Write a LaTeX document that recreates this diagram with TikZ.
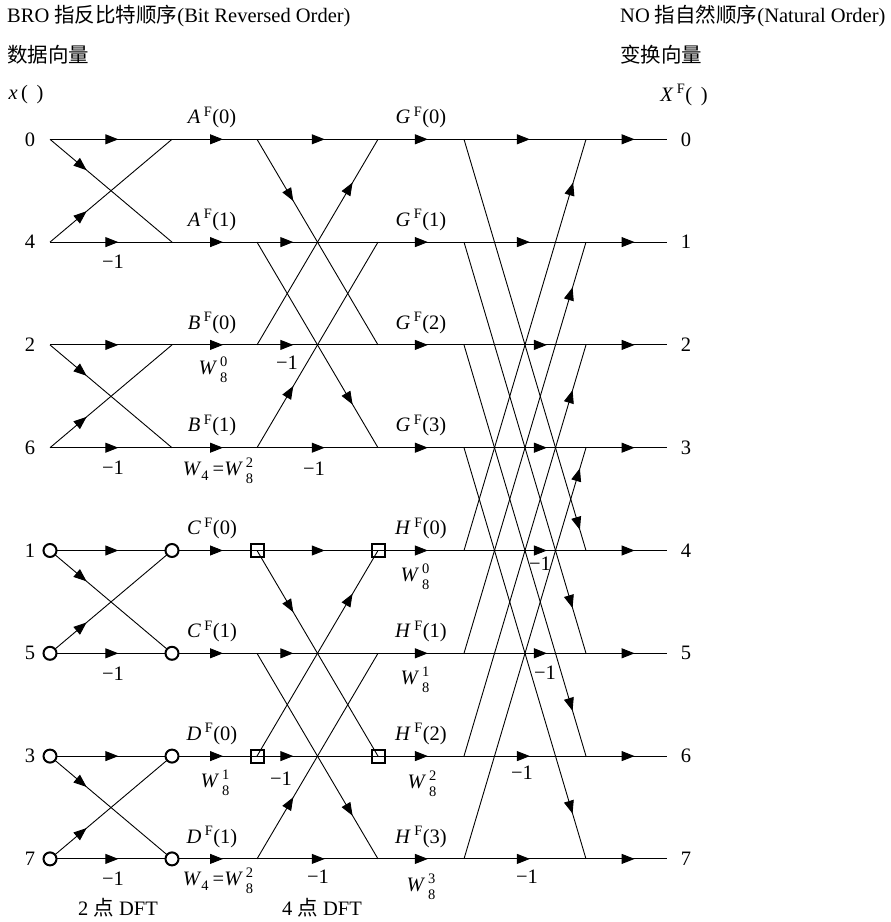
\documentclass[tikz,border=0pt]{standalone}
\usepackage{amsmath}
\usepackage{fontspec}
\setmainfont{Liberation Serif}
\newfontfamily\cjk{Noto Sans CJK SC}
\usetikzlibrary{arrows.meta,decorations.markings}
\newcommand{\Fl}[2]{\textit{#1}\,\textsuperscript{F}(#2)}
\newcommand{\smalldig}[1]{{\fontsize{14.5}{15}\selectfont #1}}
\newcommand{\Wn}[1]{\textit{W}\hspace{3pt}\rlap{\raisebox{8pt}{\smalldig{#1}}}\raisebox{-8pt}{\smalldig{8}}}
\newcommand{\Wfour}{\textit{W}\raisebox{-5pt}{\smalldig{4}}\hspace{4pt}=\Wn{2}}
\tikzset{
  ln/.style={line width=0.9pt},
  arr/.style={postaction={decorate},decoration={markings,
     mark=at position #1 with {\arrow{Triangle[length=13pt,width=10pt]}}}},
  circ/.style={circle,draw,line width=2pt,fill=white,minimum size=13pt,inner sep=0pt},
  sq/.style={rectangle,draw,line width=2pt,minimum size=13pt,inner sep=0pt},
  lbl/.style={inner sep=0pt,font=\fontsize{20.5}{23}\selectfont},
  hdr/.style={inner sep=0pt,anchor=west,font=\fontsize{20.5}{24}\selectfont},
}
\begin{document}
\begin{tikzpicture}[x=1pt,y=-1pt]
\useasboundingbox (0,0) rectangle (891,922);
% grid coordinates
\foreach \i in {0,...,7}{
  \foreach \c/\x in {0/50,1/172,2/257,3/378,4/464,5/586,6/667}{
    \coordinate (p\c-\i) at (\x,{139.3+102.8*\i});
  }
}
% headers
\node[hdr] (h1) at (7,16) {BRO {\cjk 指反比特顺序}(Bit Reversed Order)};
\node[hdr] (h2) at (7,55) {\cjk 数据向量};
\node[hdr] (h3) at (620,16) {NO {\cjk 指自然顺序}(Natural Order)};
\node[hdr] (h4) at (620,55) {\cjk 变换向量};
\node[lbl] (xin) at (26,95) {\textit{x}\,( \,)};
\node[lbl] (xout) at (684,95) {\textit{X}\,\textsuperscript{F}( \,)};
% input/output indices
\foreach \i/\t in {0/0,1/4,2/2,3/6,4/1,5/5,6/3,7/7}{
  \node[lbl] (in\i) at (30,{139.3+102.8*\i}) {\t};
  \node[lbl] (out\i) at (686,{139.3+102.8*\i}) {\i};
}
% stage 1 (2-point DFT)
\foreach \a/\b in {0/1,2/3,4/5,6/7}{
  \draw[ln,arr=0.56] (p0-\a) -- (p1-\a);
  \draw[ln,arr=0.56] (p0-\b) -- (p1-\b);
  \draw[ln,arr=0.30] (p0-\a) -- (p1-\b);
  \draw[ln,arr=0.30] (p0-\b) -- (p1-\a);
}
\foreach \i in {0,...,7}{
  \draw[ln,arr=0.6] (p1-\i) -- (p2-\i);
  \draw[ln,arr=0.58] (p3-\i) -- (p4-\i);
  \draw[ln,arr=0.6] (p5-\i) -- (p6-\i);
}
% stage 2 (4-point DFT)
\foreach \k in {0,4}{
  \pgfmathtruncatemacro{\ka}{\k+1}
  \pgfmathtruncatemacro{\kb}{\k+2}
  \pgfmathtruncatemacro{\kc}{\k+3}
  \draw[ln,arr=0.56] (p2-\k) -- (p3-\k);
  \draw[ln,arr=0.30] (p2-\ka) -- (p3-\ka);
  \draw[ln,arr=0.30] (p2-\kb) -- (p3-\kb);
  \draw[ln,arr=0.56] (p2-\kc) -- (p3-\kc);
  \draw[ln,arr=0.30] (p2-\k) -- (p3-\kb);
  \draw[ln,arr=0.79] (p2-\kb) -- (p3-\k);
  \draw[ln,arr=0.79] (p2-\ka) -- (p3-\kc);
  \draw[ln,arr=0.30] (p2-\kc) -- (p3-\ka);
}
% stage 3 (8-point)
\foreach \i/\p in {0/0.54,1/0.54,2/0.68,3/0.68,4/0.68,5/0.68,6/0.54,7/0.54}{
  \draw[ln,arr=\p] (p4-\i) -- (p5-\i);
}
\foreach \i/\pd/\pu in {0/0.95/0.895,1/0.89/0.89,2/0.89/0.89,3/0.89/0.95}{
  \pgfmathtruncatemacro{\j}{\i+4}
  \draw[ln,arr=\pd] (p4-\i) -- (p5-\j);
  \draw[ln,arr=\pu] (p4-\j) -- (p5-\i);
}
% circles and squares
\foreach \i in {4,...,7}{
  \node[circ] (ci\i) at (p0-\i) {};
  \node[circ] (co\i) at (p1-\i) {};
}
\foreach \i in {4,6}{
  \node[sq] (sa\i) at (p2-\i) {};
  \node[sq] (sb\i) at (p3-\i) {};
}
% labels above stage-1 outputs
\foreach \i/\t in {0/{\Fl{A}{0}},1/{\Fl{A}{1}},2/{\Fl{B}{0}},3/{\Fl{B}{1}},4/{\Fl{C}{0}},5/{\Fl{C}{1}},6/{\Fl{D}{0}},7/{\Fl{D}{1}}}{
  \node[lbl] (s1l\i) at (212,{139.3+102.8*\i-22}) {\t};
}
\foreach \i/\t in {0/{\Fl{G}{0}},1/{\Fl{G}{1}},2/{\Fl{G}{2}},3/{\Fl{G}{3}},4/{\Fl{H}{0}},5/{\Fl{H}{1}},6/{\Fl{H}{2}},7/{\Fl{H}{3}}}{
  \node[lbl] (s2l\i) at (421,{139.3+102.8*\i-22}) {\t};
}
% -1 labels stage 1
\foreach \i in {1,3,5,7}{
  \node[lbl] (m1\i) at (113,{139.3+102.8*\i+20}) {−1};
}
% twiddle labels
\node[lbl] (w2) at (213,370) {\Wn{0}};
\node[lbl] (w3) at (218,471) {\Wfour};
\node[lbl] (w6) at (215,783) {\Wn{1}};
\node[lbl] (w7) at (218,881) {\Wfour};
\node[lbl] (m22) at (287,363) {−1};
\node[lbl] (m23) at (314,469) {−1};
\node[lbl] (m26) at (281,779) {−1};
\node[lbl] (m27) at (318,877) {−1};
\node[lbl] (w8a) at (415,577) {\Wn{0}};
\node[lbl] (w8b) at (415,680) {\Wn{1}};
\node[lbl] (w8c) at (422,784) {\Wn{2}};
\node[lbl] (w8d) at (421,887) {\Wn{3}};
\node[lbl] (m34) at (540,564) {−1};
\node[lbl] (m35) at (545,673) {−1};
\node[lbl] (m36) at (522,773) {−1};
\node[lbl] (m37) at (527,877) {−1};
% bottom captions
\node[lbl] (d2) at (118,908) {2 {\cjk 点} DFT};
\node[lbl] (d4) at (322,908) {4 {\cjk 点} DFT};
\end{tikzpicture}
\end{document}
